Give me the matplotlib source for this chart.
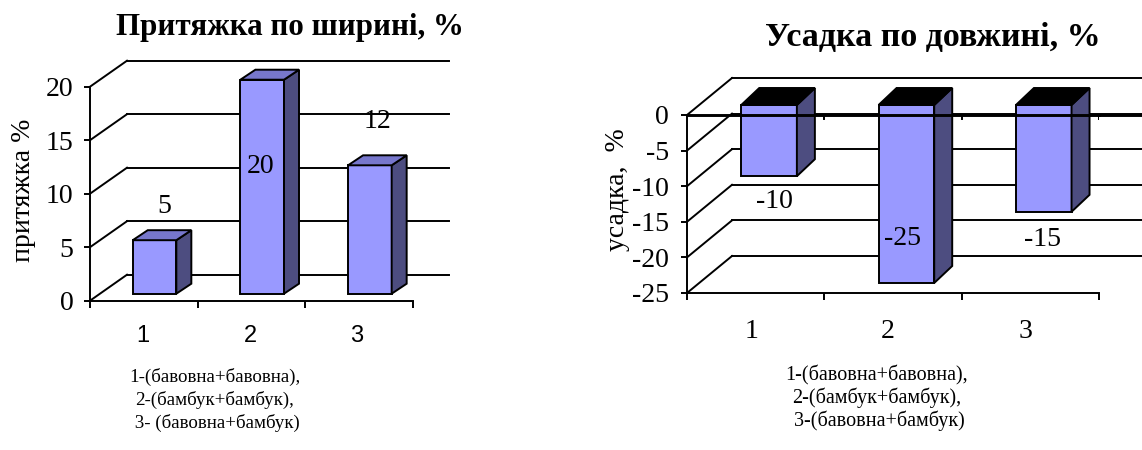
import matplotlib
matplotlib.use('Agg')
import matplotlib.pyplot as plt
from matplotlib.patches import Polygon

W, H = 1142, 450

categories = ['1', '2', '3']
stretch_values = [5, 20, 12]
shrink_values = [-10, -25, -15]
stretch_ticks = [0, 5, 10, 15, 20]
shrink_ticks = [0, -5, -10, -15, -20, -25]

stretch_title = 'Притяжка по ширині, %'
shrink_title = 'Усадка по довжині, %'
stretch_ylabel = 'притяжка %'
shrink_ylabel = 'усадка,  %'
stretch_notes = ['1-(бавовна+бавовна),', '2-(бамбук+бамбук),', ' 3- (бавовна+бамбук)']
shrink_notes = ['1-(бавовна+бавовна),', '2-(бамбук+бамбук),', ' 3-(бавовна+бамбук)']

FRONT = '#9999ff'
SIDE = '#4d4d80'
SERIF = 'Liberation Serif'
SANS = 'Liberation Sans'
LW = 1.4
TEXT_SIZE = 20

plt.rcParams['font.family'] = SERIF


def draw_chart(fig, box, values, ticks, ylim, depth, right_edge, bar_lift, bar_depth,
               label_offsets, top_color, tick_font, tick_pos, tick_size, pad):
    """Fake 3D column chart, box is the front plane in pixels (left, top, right, bottom)"""
    left, top, right, bottom = box
    ax = fig.add_axes([left / W, 1 - bottom / H, (right - left) / W, (bottom - top) / H])
    ax.set_xlim(0, len(values))
    ax.set_ylim(*ylim)
    ax.patch.set_alpha(0)

    # pixels to data units
    px_x = len(values) / (right - left)
    px_y = (ylim[1] - ylim[0]) / (bottom - top)
    ddx, ddy = depth[0] * px_x, depth[1] * px_y
    bdx, bdy = bar_depth[0] * px_x, bar_depth[1] * px_y
    lift_x, lift_y = bar_lift[0] * px_x, bar_lift[1] * px_y
    wall_end = (right_edge - left) * px_x

    # back wall grid and floor lines
    for t in ticks:
        ax.plot([0, ddx], [t, t + ddy], color='black', lw=LW, clip_on=False, zorder=1)
        ax.plot([ddx, wall_end], [t + ddy, t + ddy], color='black', lw=LW, clip_on=False, zorder=1)

    # bars
    width = 0.405
    for i, v in enumerate(values):
        x0 = i + 0.5 - width / 2 + lift_x
        x1 = x0 + width
        base = lift_y
        end = v + lift_y
        upper = max(base, end)
        lower = min(base, end)
        ax.bar(x0, v, width=width, bottom=base, align='edge', color=FRONT, edgecolor='black',
               lw=LW, clip_on=False, zorder=3)
        ax.add_patch(Polygon([(x1, lower), (x1 + bdx, lower + bdy), (x1 + bdx, upper + bdy), (x1, upper)],
                             facecolor=SIDE, edgecolor='black', lw=LW, clip_on=False, zorder=3))
        ax.add_patch(Polygon([(x0, upper), (x0 + bdx, upper + bdy), (x1 + bdx, upper + bdy), (x1, upper)],
                             facecolor=top_color, edgecolor='black', lw=LW, clip_on=False, zorder=3))
        ax.annotate(str(v), xy=(x0 + width / 2, end), xytext=label_offsets[i],
                    textcoords='offset pixels', ha='center', va='center', fontsize=TEXT_SIZE,
                    annotation_clip=False, zorder=5)

    for s in ['top', 'right']:
        ax.spines[s].set_visible(False)
    for s in ['left', 'bottom']:
        ax.spines[s].set_linewidth(LW)
    ax.set_yticks(ticks)
    ax.set_yticklabels([str(t) for t in ticks], fontsize=TEXT_SIZE)
    ax.tick_params(axis='y', length=4, width=LW, pad=pad)
    ax.set_xticks(range(len(values) + 1))
    ax.set_xticklabels([])
    ax.tick_params(axis='x', length=5, width=LW)
    for i, c in enumerate(categories):
        fig.text(tick_pos[i] / W, 1 - tick_pos[3] / H, c, ha='center', va='center',
                 family=tick_font, fontsize=tick_size)
    return ax


fig = plt.figure(figsize=(W / 100, H / 100), dpi=100)

# left chart
draw_chart(fig, (90, 86.7, 413, 300.7), stretch_values, stretch_ticks, (0, 20), (37, 26), 449,
           (10.7, 7), (15, 10), [(10, 34), (-2, -87), (8, 44)], '#7777cc',
           SANS, [143, 250, 357, 336], 17, 8)
fig.text(290 / W, 1 - 27 / H, stretch_title, ha='center', va='center', fontsize=22.3, fontweight='bold')
fig.text(24 / W, 1 - 190 / H, stretch_ylabel, rotation=90, ha='center', va='center', fontsize=20)
for y, line in zip([377, 400, 423], stretch_notes):
    fig.text(215 / W, 1 - y / H, line, ha='center', va='center', fontsize=13.6)

# right chart
ax2 = draw_chart(fig, (687, 115, 1099, 293), shrink_values, shrink_ticks, (-25, 0), (45, 37), 1142,
                 (13.4, 10), (18, 17), [(5, -25), (-3.5, 45), (-1, -28)], 'black',
                 SERIF, [752, 888, 1026, 332], TEXT_SIZE, 9)
# zero line crosses the bars, with its own ticks
ax2.plot([0, 3], [0, 0], color='black', lw=LW * 1.5, clip_on=False, zorder=4)
ax2.plot([3, 3.32], [0, 0], color='black', lw=LW * 1.5, clip_on=False, zorder=1)
for i in range(1, 4):
    ax2.plot([i, i], [0, -0.6], color='black', lw=LW, zorder=4)
fig.text(933 / W, 1 - 38 / H, shrink_title, ha='center', va='center', fontsize=24.5, fontweight='bold')
fig.text(618 / W, 1 - 190 / H, shrink_ylabel, rotation=90, ha='center', va='center', fontsize=20)
for y, line in zip([375, 398, 421], shrink_notes):
    fig.text(877 / W, 1 - y / H, line, ha='center', va='center', fontsize=14.5)

fig.savefig('out.png', dpi=100)
